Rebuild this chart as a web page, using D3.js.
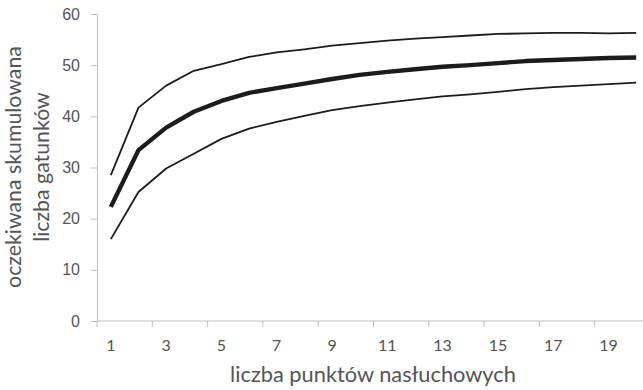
<!DOCTYPE html>
<html>
<head>
<meta charset="utf-8">
<script src="https://cdn.jsdelivr.net/npm/d3@7"></script>
<style>
  body { margin: 0; background: #fff; }
  svg { display: block; font-family: Lato, "Open Sans", sans-serif; }
</style>
</head>
<body>
<svg id="chart" width="643" height="390"></svg>
<script>
'use strict';

// data
const points = d3.range(1, 21); // 1..20
const tickLabels = [1, 3, 5, 7, 9, 11, 13, 15, 17, 19];
const yTicks = [0, 10, 20, 30, 40, 50, 60];
const expected = [22.3, 33.4, 37.8, 40.9, 43.0, 44.6, 45.5, 46.4, 47.3, 48.1,
                  48.7, 49.2, 49.7, 50.0, 50.4, 50.8, 51.0, 51.2, 51.4, 51.5];
const upper = [28.5, 41.7, 46.0, 48.9, 50.2, 51.6, 52.5, 53.1, 53.8, 54.3,
               54.8, 55.2, 55.5, 55.8, 56.1, 56.2, 56.3, 56.3, 56.2, 56.3];
const lower = [16.0, 25.2, 29.8, 32.7, 35.6, 37.6, 38.9, 40.1, 41.2, 42.0,
               42.7, 43.3, 43.9, 44.3, 44.8, 45.3, 45.7, 46.0, 46.3, 46.6];

function main() {
    const svg = d3.select("#chart");
    const left = 97, top = 14, bottom = 321;
    const step = 27.65;
    const grey = "#555555", axisGrey = "#bfbfbf";

    // category band scale; plot area runs past the right edge like the original crop
    const x = d3.scaleBand().domain(points).range([left, left + step * points.length]);
    const y = d3.scaleLinear().domain([0, 60]).range([bottom, top]);
    const cx = d => x(d) + x.bandwidth() / 2;

    // y axis
    const yAxis = svg.append("g").attr("transform", `translate(${left},0)`)
        .call(d3.axisLeft(y).tickValues(yTicks).tickSize(6).tickPadding(11));
    yAxis.select(".domain").attr("stroke", axisGrey);
    yAxis.selectAll(".tick line").attr("stroke", axisGrey);
    yAxis.selectAll(".tick text").attr("fill", grey).style("font-size", "16px");

    // x axis: line + tick marks between every second category
    const xg = svg.append("g");
    xg.append("line").attr("x1", left).attr("x2", 643).attr("y1", bottom).attr("y2", bottom)
        .attr("stroke", axisGrey);
    const tickPos = points.filter(p => p % 2 == 1).map(p => x(p));
    xg.selectAll(".xt").data(tickPos).enter().append("line").attr("class", "xt")
        .attr("x1", d => d).attr("x2", d => d).attr("y1", bottom).attr("y2", bottom + 6)
        .attr("stroke", axisGrey);
    xg.selectAll(".xl").data(tickLabels).enter().append("text").attr("class", "xl")
        .attr("x", d => cx(d)).attr("y", 351)
        .attr("text-anchor", "middle").attr("fill", grey).style("font-size", "16px")
        .text(d => d);

    // series
    const line = d3.line().x((d, i) => cx(points[i])).y(d => y(d));
    [[upper, 1.8], [lower, 1.8], [expected, 4.4]].forEach(([s, w]) => {
        svg.append("path").datum(s).attr("d", line)
            .attr("fill", "none").attr("stroke", "#1c1c1c")
            .attr("stroke-width", w).attr("stroke-linejoin", "round");
    });

    // axis titles
    svg.append("text").attr("x", 373).attr("y", 382).attr("text-anchor", "middle")
        .attr("fill", grey).style("font-size", "21.8px").text("liczba punktów nasłuchowych");
    const yt = svg.append("text").attr("transform", "translate(0,167) rotate(-90)")
        .attr("text-anchor", "middle").attr("fill", grey).style("font-size", "21.3px");
    yt.append("tspan").attr("x", 0).attr("y", 21).text("oczekiwana skumulowana");
    yt.append("tspan").attr("x", 0).attr("y", 49).text("liczba gatunków");
}

main();
</script>
</body>
</html>
